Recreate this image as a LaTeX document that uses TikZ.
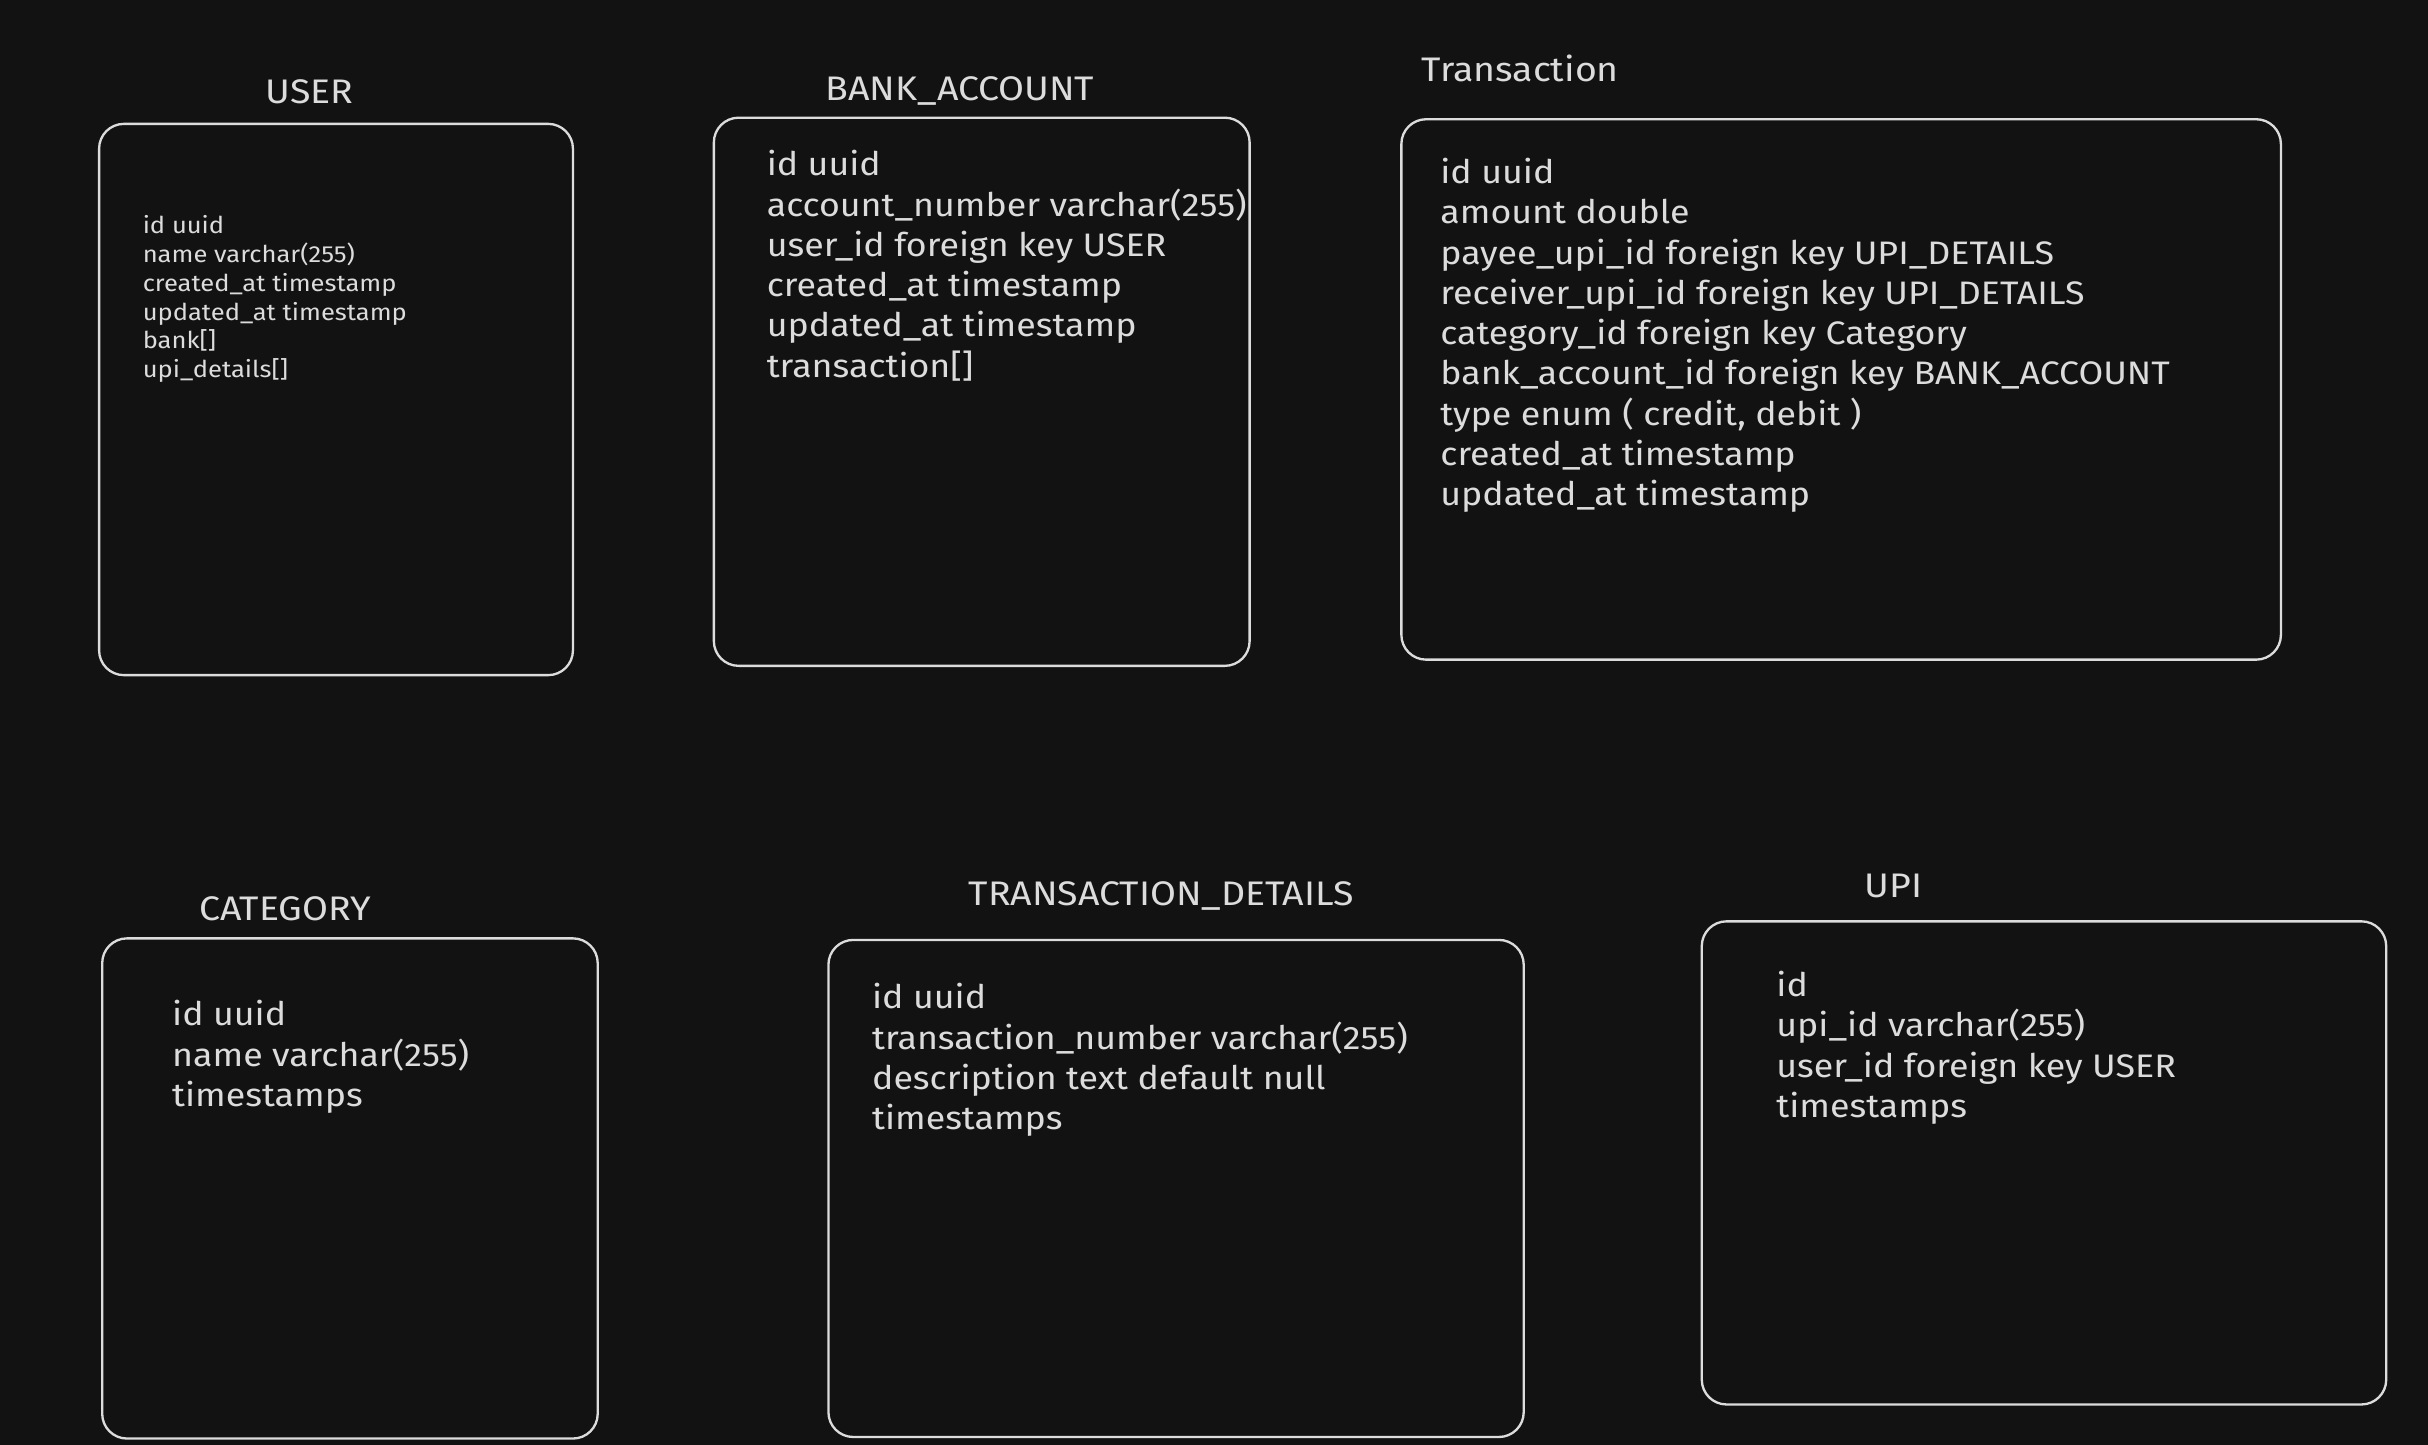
\documentclass[tikz,border=0pt]{standalone}
\usepackage{fontspec}
\setmainfont[FakeStretch=1.1]{Fira Sans}
\usetikzlibrary{positioning}
\definecolor{canvas}{HTML}{121212}
\definecolor{chalk}{HTML}{DCDCDC}
\tikzset{
    tablebox/.style 2 args={
        draw=chalk,line width=1.5pt,
        rounded corners=16pt,
        minimum width=#1,minimum height=#2,
        inner sep=0pt,outer sep=0pt,
        },
    tabletitle/.style={
        text=chalk,inner sep=0pt,
        font=\fontsize{22}{26}\selectfont,
        },
    fieldlist/.style={
        text=chalk,align=left,anchor=north west,
        inner sep=0pt,
        font=\fontsize{21}{26}\selectfont,
        },
    smallfields/.style={
        fieldlist,
        font=\fontsize{15}{18.6}\selectfont,
        }
    }

\begin{document}
\begin{tikzpicture}[x=1pt,y=-1pt]
    \fill[canvas] (0,0) rectangle (1568,933);
    % top row
    \node[tablebox={306pt}{356pt}] (user) at (217,258) {};
    \node[tabletitle] (usertitle) [above=13pt of user.north,xshift=-17pt] {USER};
    \node[smallfields] (userfields) [below right=59pt and 28pt of user.north west] {id uuid\\name varchar(255)\\created\_at timestamp\\updated\_at timestamp\\bank[]\\upi\_details[]};
    \node[tablebox={346pt}{354pt}] (bank) at (634,253) {};
    \node[tabletitle] (banktitle) [above=8pt of bank.north,xshift=-14pt] {BANK\_ACCOUNT};
    \node[fieldlist] (bankfields) [below right=21pt and 34pt of bank.north west] {id uuid\\account\_number varchar(255)\\user\_id foreign key USER\\created\_at timestamp\\updated\_at timestamp\\transaction[]};
    \node[tablebox={568pt}{349pt}] (trans) at (1189,251.5) {};
    \node[tabletitle,anchor=south west] (transtitle) [above right=24pt and 13pt of trans.north west] {Transaction};
    \node[fieldlist] (transfields) [below right=25pt and 25pt of trans.north west] {id uuid\\amount double\\payee\_upi\_id foreign key UPI\_DETAILS\\receiver\_upi\_id foreign key UPI\_DETAILS\\category\_id foreign key Category\\bank\_account\_id foreign key BANK\_ACCOUNT\\type enum ( credit, debit )\\created\_at timestamp\\updated\_at timestamp};
    % bottom row
    \node[tablebox={320pt}{323pt}] (cat) at (226,767.5) {};
    \node[tabletitle] (cattitle) [above=11pt of cat.north,xshift=-42pt] {CATEGORY};
    \node[fieldlist] (catfields) [below right=40pt and 45pt of cat.north west] {id uuid\\name varchar(255)\\timestamps};
    \node[tablebox={449pt}{321pt}] (details) at (759.5,767.5) {};
    \node[tabletitle] (detailstitle) [above=19pt of details.north,xshift=-9.5pt] {TRANSACTION\_DETAILS};
    \node[fieldlist] (detailsfields) [below right=28pt and 28pt of details.north west] {id uuid\\transaction\_number varchar(255)\\description text default null\\timestamps};
    \node[tablebox={442pt}{312pt}] (upi) at (1320,751) {};
    \node[tabletitle] (upititle) [above=15pt of upi.north,xshift=-97pt] {UPI};
    \node[fieldlist] (upifields) [below right=32pt and 48pt of upi.north west] {id\\upi\_id varchar(255)\\user\_id foreign key USER\\timestamps};
\end{tikzpicture}
\end{document}
